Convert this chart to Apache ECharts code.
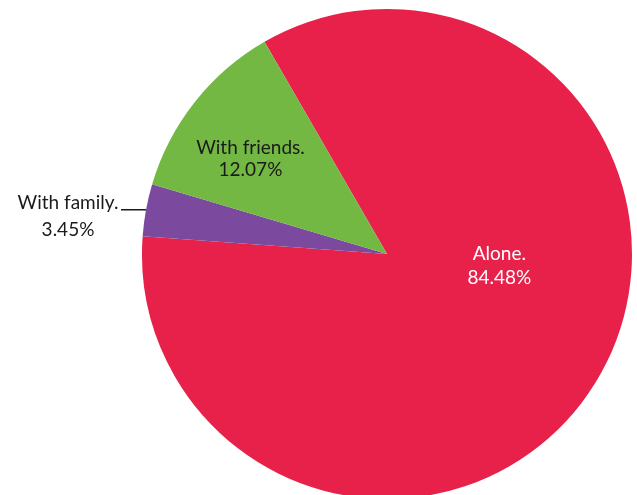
<!DOCTYPE html>
<html><head><meta charset="utf-8">
<script src="https://cdn.jsdelivr.net/npm/echarts@6/dist/echarts.min.js"></script>
<style>html,body{margin:0;padding:0;background:#fff}#c{width:637px;height:495px}</style>
</head><body><div id="c"></div>
<script>
const categories = ['Alone.', 'With family.', 'With friends.'];
const values = [84.48, 3.45, 12.07];
const colors = ['#E8214A', '#7B4A9E', '#72B843'];

const labelCfg = [
  {position:'inside', color:'#ffffff', offset:[6,-55], lineHeight:24},
  {position:'outside', color:'#1a1a1a', formatter:'{a|{b}}\n{a|{c}%}', padding:[14,0,0,0],
   rich:{a:{width:102, align:'center', fontFamily:'Lato', fontSize:19, lineHeight:27, color:'#1a1a1a'}}},
  {position:'inside', color:'#1a1a1a', offset:[-38,-17], lineHeight:22}
];

const chart = echarts.init(document.getElementById('c'));
chart.setOption({
  animation:false,
  series:[{
    type:'pie',
    center:[387,254],
    radius:[0,245],
    startAngle:120,
    clockwise:true,
    silent:true,
    avoidLabelOverlap:false,
    label:{fontFamily:'Lato', fontSize:19, lineHeight:22, formatter:'{b}\n{c}%', distanceToLabelLine:2},
    labelLine:{show:true, length:1, length2:24, lineStyle:{color:'#1a1a1a', width:1.5}},
    data: categories.map((n,i)=>({
      name:n, value:values[i],
      itemStyle:{color:colors[i]},
      label:Object.assign({align:'center'}, labelCfg[i]),
      labelLine:{show: labelCfg[i].position==='outside'}
    }))
  }]
});
</script></body></html>
